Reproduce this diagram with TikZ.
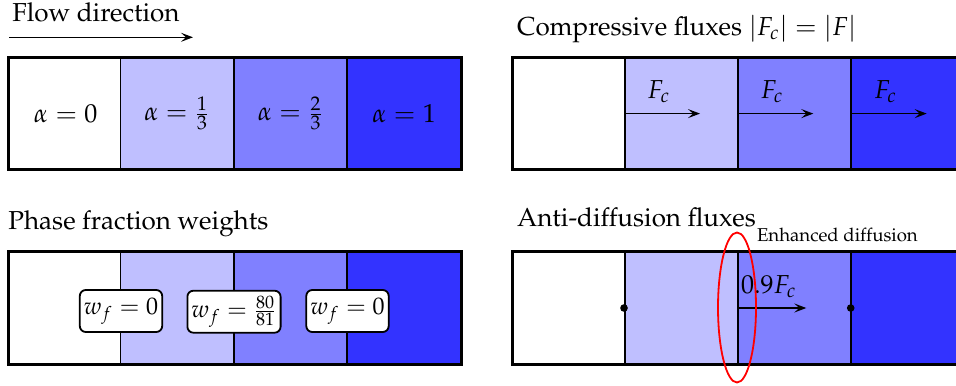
\documentclass[tikz,border=0pt]{standalone}
\usepackage[T1]{fontenc}
\usepackage{mathpazo}
\usetikzlibrary{shapes.geometric,arrows.meta}
\begin{document}
\begin{tikzpicture}[x=0.5pt,y=-0.5pt,
  every node/.style={font=\fontsize{13}{15}\selectfont},
  cell/.style={draw=black,line width=0.8pt,rectangle,inner sep=0pt,minimum width=56.5pt,minimum height=55.5pt,anchor=north west},
  outer/.style={draw=black,line width=1.5pt},
  flux/.style={line width=0.7pt,-{Stealth[length=6pt,width=4.5pt,inset=2.5pt]}},
  wbox/.style={draw=black,line width=0.9pt,fill=white,rounded corners=3pt,minimum height=21pt,inner xsep=2pt,inner ysep=2.5pt,font=\fontsize{12}{14}\selectfont},
  title/.style={anchor=base west,inner sep=0pt},
  dotmark/.style={circle,fill=black,inner sep=0pt,minimum size=3.8pt}
]
\useasboundingbox (0,0) rectangle (956,385);
\clip (0,0) rectangle (956,385);
\colorlet{cA}{white}
\colorlet{cB}{blue!25}
\colorlet{cC}{blue!50}
\colorlet{cD}{blue!80}

% ---------- top left
\node[title] (t1) at (12,21.7) {Flow direction};
\coordinate (fa) at (9,37.3);
\coordinate (fb) at (193,37.3);
\draw[flux] (fa) -- (fb);
\node[cell,fill=cA] (a1) at (8.3,57.3) {$\alpha = 0$};
\node[cell,fill=cB] (a2) at (119.5,57.3) {$\alpha = \frac{1}{3}$};
\node[cell,fill=cC] (a3) at (233,57.3) {$\alpha = \frac{2}{3}$};
\node[cell,fill=cD] (a4) at (346.7,57.3) {$\alpha = 1$};
\draw[outer] (a1.north west) rectangle (a4.south east);

% ---------- top right
\node[title] (t2) at (516.7,36) {Compressive fluxes $|F_c| = |F|$};
\node[cell,fill=cA] (b1) at (512.3,57.3) {};
\node[cell,fill=cB] (b2) at (624,57.3) {};
\node[cell,fill=cC] (b3) at (737.3,57.3) {};
\node[cell,fill=cD] (b4) at (850.7,57.3) {};
\draw[outer] (b1.north west) rectangle (b4.south east);
\foreach \c in {b2,b3,b4}{
  \coordinate (\c e) at ([xshift=38pt]\c.west);
  \draw[flux] (\c.west) -- (\c e);
  \node[anchor=base west,inner sep=0pt] (\c l) at ([xshift=11.5pt,yshift=7.5pt]\c.west) {$F_c$};
}

% ---------- bottom left
\node[title] (t3) at (8,229) {Phase fraction weights};
\node[cell,fill=cA] (c1) at (8.3,251.7) {};
\node[cell,fill=cB] (c2) at (119.5,251.7) {};
\node[cell,fill=cC] (c3) at (233,251.7) {};
\node[cell,fill=cD] (c4) at (346.7,251.7) {};
\draw[outer] (c1.north west) rectangle (c4.south east);
\node[wbox] (w1) at (121,311) {$w_f = 0$};
\node[wbox] (w2) at (234,311.7) {$w_f = \frac{80}{81}$};
\node[wbox] (w3) at (347.5,311) {$w_f = 0$};

% ---------- bottom right
\node[title] (t4) at (516.7,226) {Anti-diffusion fluxes};
\node[cell,fill=cA] (d1) at (512.3,251.7) {};
\node[cell,fill=cB] (d2) at (624,251.7) {};
\node[cell,fill=cC] (d3) at (737.3,251.7) {};
\node[cell,fill=cD] (d4) at (850.7,251.7) {};
\draw[outer] (d1.north west) rectangle (d4.south east);
\node[dotmark] (p1) at (d2.west) {};
\node[dotmark] (p2) at (d4.west) {};
\coordinate (d3e) at ([xshift=34.5pt]d3.west);
\draw[flux] (d3.west) -- (d3e);
\node[anchor=base west,inner sep=0pt] (d3l) at (740.7,293.3) {$0.9F_c$};
\node[draw=red,line width=0.9pt,ellipse,inner sep=0pt,minimum width=19pt,minimum height=75pt] (ell) at (737,307.5) {};
\node[anchor=base west,inner sep=0pt,font=\fontsize{9.3}{11}\selectfont] (enh) at (756.7,241.7) {Enhanced diffusion};
\end{tikzpicture}
\end{document}
